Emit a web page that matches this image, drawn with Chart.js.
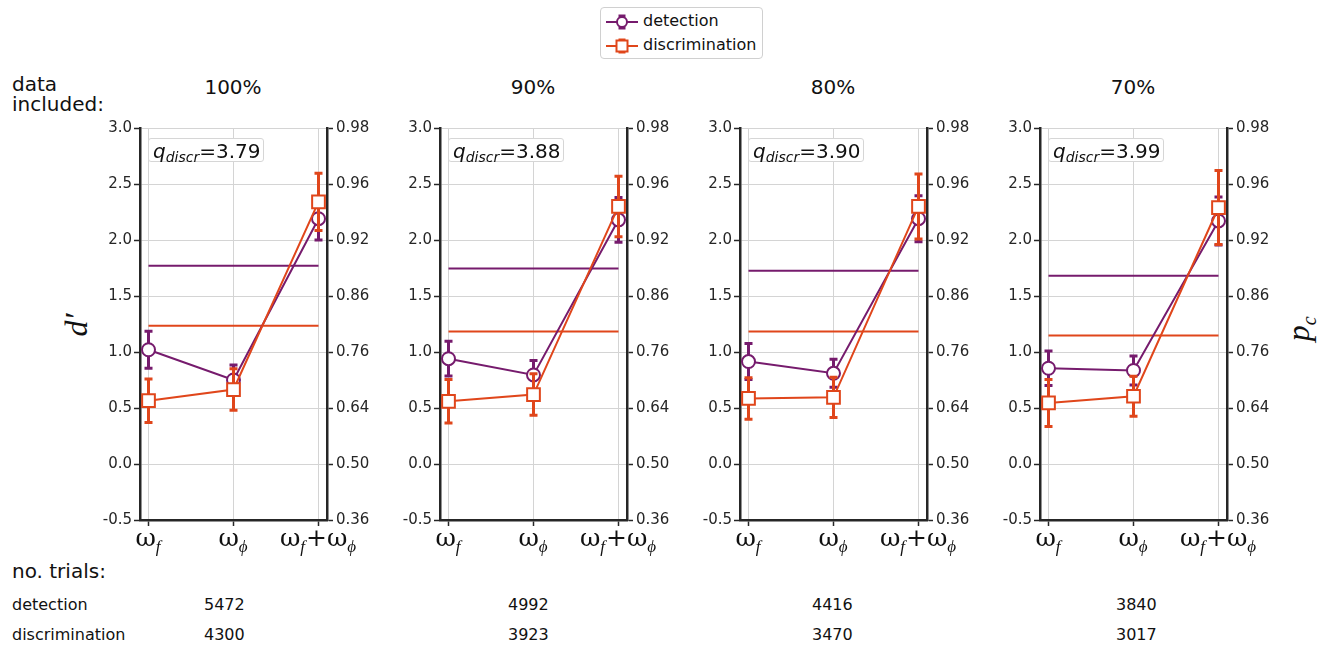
<!DOCTYPE html>
<html>
<head>
<meta charset="utf-8">
<script src="https://cdn.jsdelivr.net/npm/chart.js@4.4.1/dist/chart.umd.min.js"></script>
<style>
  body { margin: 0; width: 1319px; height: 649px; background: #fff; position: relative; overflow: hidden; font-family: 'DejaVu Sans', sans-serif; color: #111; }
  .txt { position: absolute; white-space: nowrap; line-height: 1; }
  canvas { position: absolute; }
  .qbox { position: absolute; height: 24px; line-height: 24px; border: 1px solid #d6d6d6; border-radius: 3px; background: #fff; font-size: 20px; padding: 0 4px; box-sizing: border-box; width: 116px; }
  .qbox sub { font-size: 14px; vertical-align: -4px; line-height: 0; }
  #legend { position: absolute; left: 600px; top: 7px; width: 163px; height: 52px; border: 1px solid #d0d0d0; border-radius: 4px; box-sizing: border-box; font-size: 16px; }
  #legend .row { position: absolute; left: 5px; height: 20px; line-height: 20px; }
  #legend svg { vertical-align: middle; margin-right: 5px; }
  .serif { font-family: 'Liberation Serif', 'DejaVu Serif', serif; font-style: italic; }
</style>
</head>
<body>
<div id="legend">
  <div class="row" style="top:3px">
    <svg width="32" height="20"><line x1="0" y1="10" x2="32" y2="10" stroke="#761b6d" stroke-width="2"/><line x1="16" y1="3" x2="16" y2="17" stroke="#761b6d" stroke-width="3"/><line x1="12.5" y1="4" x2="19.5" y2="4" stroke="#761b6d" stroke-width="3"/><line x1="12.5" y1="16" x2="19.5" y2="16" stroke="#761b6d" stroke-width="3"/><circle cx="16" cy="10" r="5" fill="#fff" stroke="#761b6d" stroke-width="2"/></svg>detection
  </div>
  <div class="row" style="top:27px">
    <svg width="32" height="20"><line x1="0" y1="10" x2="32" y2="10" stroke="#e0461b" stroke-width="2"/><line x1="16" y1="3" x2="16" y2="17" stroke="#e0461b" stroke-width="3"/><line x1="12.5" y1="4" x2="19.5" y2="4" stroke="#e0461b" stroke-width="3"/><line x1="12.5" y1="16" x2="19.5" y2="16" stroke="#e0461b" stroke-width="3"/><rect x="10.5" y="4.5" width="11" height="11" fill="#fff" stroke="#e0461b" stroke-width="2"/></svg>discrimination
  </div>
</div>
<div class="txt" style="left:12px;top:74px;font-size:20px">data</div>
<div class="txt" style="left:12px;top:94px;font-size:20px">included:</div>
<div class="txt" style="left:12px;top:561px;font-size:20px">no. trials:</div>
<div class="txt" style="left:12px;top:597px;font-size:16px">detection</div>
<div class="txt" style="left:12px;top:627px;font-size:16px">discrimination</div>
<div class="txt serif" style="left:64px;top:309px;font-size:32px;transform:rotate(-90deg);transform-origin:center">d′</div>
<div class="txt serif" style="left:1288px;top:310px;font-size:32px;transform:rotate(-90deg);transform-origin:center">p<sub style="font-size:20px">c</sub></div>

<script>
// panels (percentage of data included)
const panelTitles = ['100%', '90%', '80%', '70%'];
const qDiscr = ['3.79', '3.88', '3.90', '3.99'];
const categories = ['ω_f', 'ω_ϕ', 'ω_f+ω_ϕ'];
const categoryX = [0, 1, 2];

// d' values per panel: [ω_f, ω_ϕ, ω_f+ω_ϕ]
const detection = [[1.02, 0.75, 2.19], [0.94, 0.795, 2.18], [0.915, 0.81, 2.19], [0.855, 0.835, 2.17]];
const detectionErr = [[0.165, 0.135, 0.19], [0.155, 0.13, 0.2], [0.16, 0.125, 0.205], [0.155, 0.13, 0.215]];
const discrimination = [[0.565, 0.665, 2.34], [0.56, 0.62, 2.3], [0.585, 0.595, 2.3], [0.545, 0.605, 2.29]];
const discriminationErr = [[0.195, 0.185, 0.255], [0.195, 0.185, 0.27], [0.185, 0.18, 0.29], [0.21, 0.178, 0.33]];
const detectionMean = [1.77, 1.745, 1.725, 1.68];
const discriminationMean = [1.235, 1.182, 1.182, 1.147];

// axes
const dTicks = [-0.5, 0, 0.5, 1, 1.5, 2, 2.5, 3];
const pcTicks = ['0.36', '0.50', '0.64', '0.76', '0.86', '0.92', '0.96', '0.98'];

// trial counts
const trialsDetection = [5472, 4992, 4416, 3840];
const trialsDiscrimination = [4300, 3923, 3470, 3017];

const PURPLE = '#761b6d';
const ORANGE = '#e0461b';
const GRID = '#d4d4d4';
const SPINE = '#262626';

function addText(html, left, top, size, extra) {
  const d = document.createElement('div');
  d.className = 'txt';
  d.style.left = left + 'px';
  d.style.top = top + 'px';
  d.style.fontSize = size + 'px';
  if (extra) Object.assign(d.style, extra);
  d.innerHTML = html;
  document.body.appendChild(d);
  return d;
}

const errorBars = {
  id: 'errorBars',
  beforeDatasetDraw(chart, args) {
    const ds = chart.data.datasets[args.index];
    if (!ds.errors) return;
    const ctx = chart.ctx, xs = chart.scales.x, ys = chart.scales.y;
    ctx.save();
    ctx.strokeStyle = ds.borderColor;
    ctx.lineWidth = 3;
    ds.data.forEach((p, i) => {
      const px = xs.getPixelForValue(p.x);
      const top = ys.getPixelForValue(p.y + ds.errors[i]);
      const bot = ys.getPixelForValue(p.y - ds.errors[i]);
      ctx.beginPath();
      ctx.moveTo(px, top); ctx.lineTo(px, bot);
      ctx.moveTo(px - 4, top); ctx.lineTo(px + 4, top);
      ctx.moveTo(px - 4, bot); ctx.lineTo(px + 4, bot);
      ctx.stroke();
    });
    ctx.restore();
  }
};

// ω with subscripts under the x ticks
const mathTicks = {
  id: 'mathTicks',
  afterDraw(chart) {
    const ctx = chart.ctx, xs = chart.scales.x;
    const big = '25px "DejaVu Serif", serif';
    const small = 'italic 17px "Liberation Serif", serif';
    const y = chart.chartArea.bottom + 26;
    ctx.save();
    ctx.fillStyle = '#111';
    ctx.textBaseline = 'alphabetic';
    categories.forEach((lab, k) => {
      const parts = [];
      for (let i = 0; i < lab.length; i++) {
        if (lab[i] === '_') { parts.push({ t: lab[i + 1], sub: true }); i++; }
        else parts.push({ t: lab[i], sub: false });
      }
      let w = 0;
      parts.forEach(p => { ctx.font = p.sub ? small : big; p.w = ctx.measureText(p.t).width + (p.sub ? 1 : 0); w += p.w; });
      let x = xs.getPixelForValue(categoryX[k]) - w / 2;
      parts.forEach(p => {
        ctx.font = p.sub ? small : big;
        ctx.fillText(p.t, x, p.sub ? y + 6 : y);
        x += p.w;
      });
    });
    ctx.restore();
  }
};

const tickFont = { family: 'DejaVu Sans', size: 15 };

panelTitles.forEach((title, k) => {
  const off = 300 * k;
  const cv = document.createElement('canvas');
  cv.width = 280; cv.height = 450;
  cv.style.left = (95 + off) + 'px';
  cv.style.top = '110px';
  document.body.appendChild(cv);

  addText(title, 233 + off, 77, 20, { transform: 'translateX(-50%)' });
  const q = document.createElement('div');
  q.className = 'qbox';
  q.style.left = (148 + off) + 'px';
  q.style.top = '138px';
  q.innerHTML = '<i>q</i><sub><i>discr</i></sub>=' + qDiscr[k];
  document.body.appendChild(q);
  addText(String(trialsDetection[k]), 204 + 304 * k, 597, 16);
  addText(String(trialsDiscrimination[k]), 204 + 304 * k, 627, 16);

  const pts = arr => arr.map((v, i) => ({ x: categoryX[i], y: v }));
  const meanLine = v => [{ x: categoryX[0], y: v }, { x: categoryX[2], y: v }];

  new Chart(cv, {
    type: 'line',
    data: {
      datasets: [
        { data: meanLine(detectionMean[k]), borderColor: PURPLE, borderWidth: 2, pointRadius: 0, order: 4 },
        { data: meanLine(discriminationMean[k]), borderColor: ORANGE, borderWidth: 2, pointRadius: 0, order: 3 },
        { label: 'detection', data: pts(detection[k]), errors: detectionErr[k], borderColor: PURPLE, borderWidth: 2,
          pointStyle: 'circle', pointRadius: 6.5, pointBorderWidth: 2, pointBackgroundColor: '#fff', pointBorderColor: PURPLE, order: 2, clip: false },
        { label: 'discrimination', data: pts(discrimination[k]), errors: discriminationErr[k], borderColor: ORANGE, borderWidth: 2,
          pointStyle: 'rect', pointRadius: 9, pointBorderWidth: 2, pointBackgroundColor: '#fff', pointBorderColor: ORANGE, order: 1, clip: false }
      ]
    },
    options: {
      responsive: false,
      animation: false,
      devicePixelRatio: 1,
      layout: { padding: { top: 18, left: 0, right: 0, bottom: 0 } },
      plugins: { legend: { display: false }, tooltip: { enabled: false } },
      scales: {
        x: {
          type: 'linear', min: -0.1, max: 2.1,
          afterBuildTicks: s => { s.ticks = categoryX.map(v => ({ value: v })); },
          afterFit: s => { s.height = 40; },
          ticks: { display: false },
          grid: { color: GRID, lineWidth: 1, tickColor: SPINE, tickLength: 6, tickWidth: 1.5 },
          border: { display: true, color: SPINE, width: 2.5 }
        },
        y: {
          position: 'left', min: -0.5, max: 3,
          afterBuildTicks: s => { s.ticks = dTicks.map(v => ({ value: v })); },
          afterFit: s => { s.width = 45; },
          ticks: { font: tickFont, color: SPINE, padding: 2, callback: v => v.toFixed(1) },
          grid: { color: GRID, lineWidth: 1, tickColor: SPINE, tickLength: 6, tickWidth: 1.5 },
          border: { display: true, color: SPINE, width: 2.5 }
        },
        y2: {
          position: 'right', min: -0.5, max: 3,
          afterBuildTicks: s => { s.ticks = dTicks.map(v => ({ value: v })); },
          afterFit: s => { s.width = 48; },
          ticks: { font: tickFont, color: SPINE, padding: 3, callback: (v, i) => pcTicks[i] },
          grid: { drawOnChartArea: false, tickColor: SPINE, tickLength: 6, tickWidth: 1.5 },
          border: { display: true, color: SPINE, width: 2.5 }
        }
      }
    },
    plugins: [errorBars, mathTicks]
  });
});
</script>
</body>
</html>
